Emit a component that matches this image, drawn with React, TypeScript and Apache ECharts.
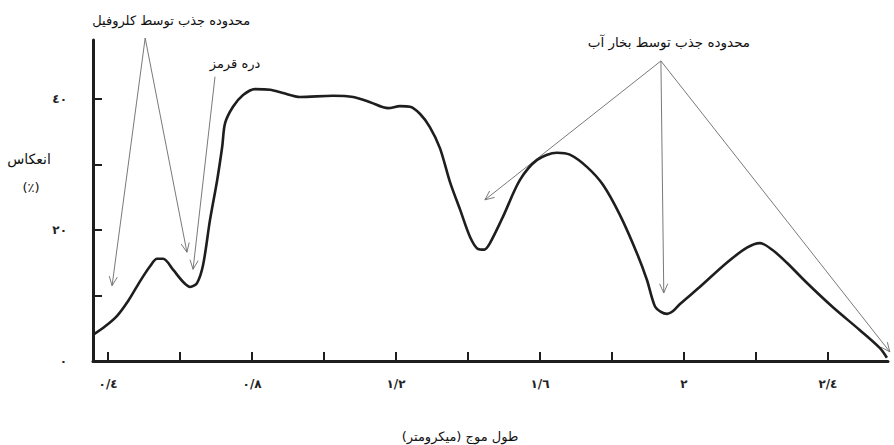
import React, { useEffect, useRef } from "react";
import * as echarts from "echarts";

// Wavelength (micrometre) and reflectance (%)
const wavelengths = [
  0.361, 0.392, 0.425, 0.456, 0.489, 0.517, 0.536, 0.553, 0.581, 0.608, 0.628,
  0.647, 0.664, 0.683, 0.703, 0.717, 0.725, 0.747, 0.775, 0.808, 0.85, 0.886,
  0.933, 1.025, 1.081, 1.128, 1.178, 1.211, 1.239, 1.267, 1.294, 1.322, 1.35,
  1.378, 1.406, 1.428, 1.445, 1.461, 1.497, 1.544, 1.592, 1.647, 1.683, 1.731,
  1.775, 1.822, 1.869, 1.897, 1.919, 1.936, 1.953, 1.969, 1.989, 2.044, 2.119,
  2.175, 2.211, 2.247, 2.286, 2.342, 2.414, 2.489, 2.544, 2.564,
];
const reflectance = [
  4.1, 5.3, 6.9, 9.2, 12.2, 14.5, 15.6, 15.6, 13.9, 12.1, 11.3,
  11.9, 14.7, 21.5, 27.6, 32.7, 36.3, 38.8, 40.6, 41.5, 41.4, 40.9,
  40.3, 40.5, 40.3, 39.5, 38.6, 38.9, 38.8, 37.7, 35.7, 32.5, 27.3,
  23.1, 18.9, 17.1, 17.0, 18.0, 22.0, 27.6, 30.7, 31.8, 31.5, 29.6,
  26.9, 22.3, 16.5, 12.4, 8.4, 7.5, 7.2, 7.6, 8.7, 11.3, 15.0,
  17.3, 18.0, 16.9, 15.0, 11.9, 8.2, 4.7, 2.0, 0.5,
];

const xTickValues = [0.4, 0.6, 0.8, 1.0, 1.2, 1.4, 1.6, 1.8, 2.0, 2.2, 2.4];
const xLabelValues = [0.4, 0.8, 1.2, 1.6, 2.0, 2.4];
const yTickValues = [10, 20, 30, 40];
const yLabelValues = [0, 20, 40];

const xAxisTitle = "طول موج (میکرومتر)";
const yAxisTitle = "انعکاس";
const yAxisUnit = "(٪)";

// Annotation anchors in data space [wavelength, reflectance]
const chlorophyllLabel = "محدوده جذب توسط کلروفیل";
const chlorophyllApex = [0.503, 49.3];
const chlorophyllTargets = [
  [0.411, 11.5],
  [0.619, 16.6],
];
const redEdgeLabel = "دره قرمز";
const redEdgeStart = [0.697, 43.4];
const redEdgeTarget = [0.636, 14.0];
const waterLabel = "محدوده جذب توسط بخار آب";
const waterApex = [1.936, 45.8];
const waterTargets = [
  [1.447, 24.6],
  [1.944, 10.4],
  [2.572, 1.4],
];

const DIGITS = "٠١٢٣٤٥٦٧٨٩";
const toArabic = (v: number) =>
  String(Math.round(v * 10) / 10)
    .replace(".", "/")
    .replace(/\d/g, (d) => DIGITS[+d]);

const FONT = "DejaVu Sans";
const INK = "#1e1e1e";
const THIN = "#6a6a6a";

export default function App() {
  const ref = useRef<HTMLDivElement>(null);

  useEffect(() => {
    if (!ref.current) return;
    const chart = echarts.init(ref.current, undefined, { renderer: "svg" });
    chart.setOption({
      animation: false,
      backgroundColor: "#ffffff",
      grid: { left: 93, right: 6, top: 40, bottom: 84 },
      xAxis: {
        type: "value",
        min: 0.358,
        max: 2.567,
        axisLine: { show: true, onZero: false, lineStyle: { color: INK, width: 3 } },
        axisTick: {
          show: true,
          inside: true,
          length: 9,
          customValues: xTickValues,
          lineStyle: { color: INK, width: 2 },
        },
        axisLabel: {
          customValues: xLabelValues,
          formatter: (v: number) => toArabic(v),
          margin: 17,
          fontFamily: FONT,
          fontSize: 12,
          fontWeight: "bold",
          color: "#222",
        },
        splitLine: { show: false },
      },
      yAxis: {
        type: "value",
        min: 0,
        max: 49,
        axisLine: { show: true, lineStyle: { color: INK, width: 3 } },
        axisTick: {
          show: true,
          inside: true,
          length: 9,
          customValues: yTickValues,
          lineStyle: { color: INK, width: 2 },
        },
        axisLabel: {
          customValues: yLabelValues,
          formatter: (v: number) => toArabic(v),
          margin: 26,
          fontFamily: FONT,
          fontSize: 12,
          fontWeight: "bold",
          color: "#222",
        },
        splitLine: { show: false },
      },
      series: [
        {
          type: "line",
          data: wavelengths.map((w, i) => [w, reflectance[i]]),
          showSymbol: false,
          smooth: 0.3,
          clip: false,
          lineStyle: { color: INK, width: 2.6 },
        },
      ],
    });

    const px = (p: number[]) =>
      chart.convertToPixel({ xAxisIndex: 0, yAxisIndex: 0 }, p) as number[];

    const arrow = (from: number[], to: number[]) => {
      const a = px(from);
      const b = px(to);
      const dx = b[0] - a[0];
      const dy = b[1] - a[1];
      const len = Math.hypot(dx, dy);
      const ux = dx / len;
      const uy = dy / len;
      const L = 10;
      const th = (24 * Math.PI) / 180;
      const rot = (s: number) => [
        b[0] - L * (ux * Math.cos(s * th) - uy * Math.sin(s * th)),
        b[1] - L * (ux * Math.sin(s * th) + uy * Math.cos(s * th)),
      ];
      const style = { stroke: THIN, lineWidth: 0.9, fill: null };
      return [
        { type: "line", shape: { x1: a[0], y1: a[1], x2: b[0], y2: b[1] }, style },
        { type: "polyline", shape: { points: [rot(1), b, rot(-1)] }, style },
      ];
    };

    const textStyle = (text: string, size = 12) => ({
      text,
      fontFamily: FONT,
      fontSize: size,
      fill: "#111",
      align: "center",
      verticalAlign: "middle",
    });

    const elements: any[] = [];
    chlorophyllTargets.forEach((t) => elements.push(...arrow(chlorophyllApex, t)));
    elements.push(...arrow(redEdgeStart, redEdgeTarget));
    waterTargets.forEach((t) => elements.push(...arrow(waterApex, t)));
    const ca = px(chlorophyllApex);
    const rs = px(redEdgeStart);
    const wa = px(waterApex);
    elements.push(
      { type: "text", x: ca[0] + 26, y: ca[1] - 18, style: textStyle(chlorophyllLabel, 13) },
      { type: "text", x: rs[0] + 20, y: rs[1] - 13, style: textStyle(redEdgeLabel, 13) },
      { type: "text", x: wa[0] + 8, y: wa[1] - 19, style: textStyle(waterLabel, 13.5) },
      { type: "text", x: 29, y: 159, style: textStyle(yAxisTitle, 14) },
      { type: "text", x: 31, y: 187, style: textStyle(yAxisUnit, 13) },
      { type: "text", x: 460, y: 436, style: textStyle(xAxisTitle, 13) }
    );
    chart.setOption({ graphic: elements });

    return () => chart.dispose();
  }, []);

  return (
    <div
      ref={ref}
      style={{ position: "fixed", left: 0, top: 0, width: 894, height: 445 }}
    />
  );
}
